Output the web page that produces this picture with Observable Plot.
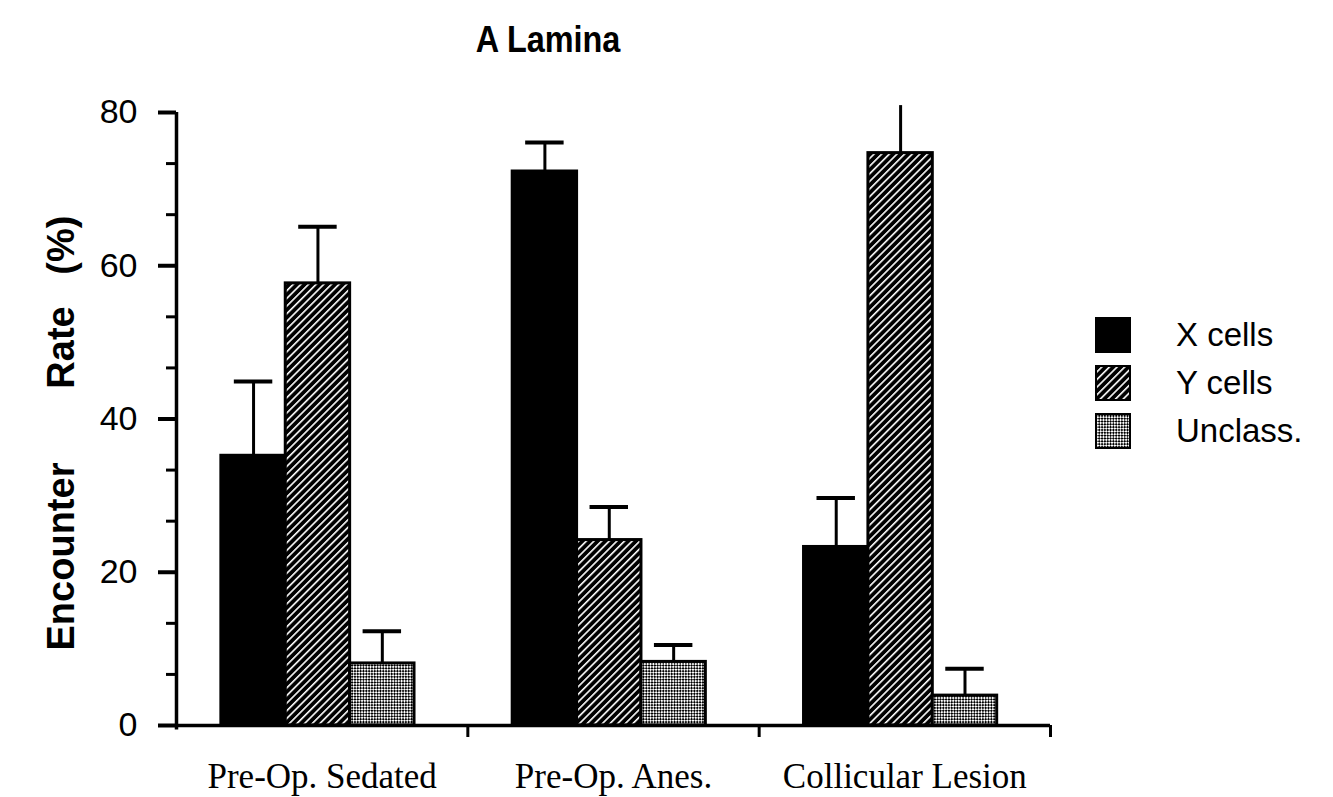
<!DOCTYPE html>
<html><head><meta charset="utf-8">
<script src="https://cdn.jsdelivr.net/npm/d3@7"></script>
<script src="https://cdn.jsdelivr.net/npm/@observablehq/plot@0.6"></script>
<style>
body{margin:0;background:#fff;color:#000;}
#wrap{position:relative;width:1333px;height:797px;overflow:hidden;font-family:"Liberation Sans",Arial,sans-serif;}
#title{position:absolute;left:548px;top:19px;transform:translateX(-50%) scaleX(0.9);font-size:36px;font-weight:bold;white-space:nowrap;}
#chart{position:absolute;left:0;top:80px;}
#ylabel{position:absolute;left:61px;top:433px;transform:translate(-50%,-50%) rotate(-90deg);font-size:38px;font-weight:bold;white-space:pre;}
#legend{position:absolute;left:1095px;top:311px;}
.row{display:flex;align-items:center;height:48px;}
.row svg{width:36px;height:36px;display:block;}
.row span{margin-left:45px;font-size:33px;line-height:36px;}
</style></head><body>
<svg width="0" height="0" style="position:absolute">
  <defs>
    <pattern id="hatch" patternUnits="userSpaceOnUse" width="5.4" height="10" patternTransform="rotate(45)">
      <rect x="0" y="0" width="5.4" height="10" fill="#000"/>
      <rect x="0" y="0" width="1.6" height="10" fill="#fff"/>
    </pattern>
    <pattern id="stipple" patternUnits="userSpaceOnUse" width="4" height="4" patternTransform="rotate(45)">
      <rect x="0" y="0" width="4" height="4" fill="#000"/>
      <rect x="0" y="0" width="2" height="2" fill="#fff"/>
      <rect x="2" y="2" width="2" height="2" fill="#fff"/>
    </pattern>
  </defs>
</svg>
<div id="wrap">
  <div id="title">A Lamina</div>
  <div id="chart"></div>
  <div id="ylabel">Encounter       Rate   (%)</div>
  <div id="legend"></div>
</div>
<script>
// ---- data ----
const groups = ["Pre-Op. Sedated", "Pre-Op. Anes.", "Collicular Lesion"];
const series = ["X cells", "Y cells", "Unclass."];
const xCells = [35.2, 72.3, 23.3];
const xCellsErr = [9.7, 3.8, 6.4];
const yCells = [57.7, 24.2, 74.7];
const yCellsErr = [7.4, 4.3, 6.2];
const unclass = [8.1, 8.3, 3.9];
const unclassErr = [4.2, 2.2, 3.5];
const yTicks = [0, 20, 40, 60, 80];
const yMinorTicks = [20/3, 40/3, 80/3, 100/3, 140/3, 160/3, 200/3, 220/3];
const fills = ["#000", "url(#hatch)", "url(#stipple)"];

const values = [xCells, yCells, unclass];
const errs = [xCellsErr, yCellsErr, unclassErr];
const table = groups.flatMap((g, gi) => series.map((s, si) => ({
  group: g, gi, series: s, si, value: values[si][gi], err: errs[si][gi]
})));

// layout within a group (fraction of the group width)
const off = 0.154, bw = 0.221, cap = 0.066;
const barX1 = d => d.gi + off + d.si * bw;
const barX2 = d => barX1(d) + bw;
const barXc = d => barX1(d) + bw / 2;
const errTop = d => d.value + d.err;

const chart = Plot.plot({
  width: 1333, height: 717,
  marginLeft: 176, marginRight: 283, marginTop: 32, marginBottom: 72,
  x: {domain: [0, 3], axis: null},
  y: {domain: [0, 80], axis: null},
  color: {domain: series, range: fills},
  style: {background: "transparent", color: "#000", fontFamily: "Liberation Sans, Arial, sans-serif"},
  marks: [
    Plot.rectY(table, {x1: barX1, x2: barX2, y1: 0, y2: "value", fill: "series", stroke: "#000", strokeWidth: 3}),
    Plot.ruleX(table, {x: barXc, y1: "value", y2: errTop, stroke: "#000", strokeWidth: 3}),
    Plot.ruleY(table.filter(d => errTop(d) <= 80), {x1: d => barXc(d) - cap, x2: d => barXc(d) + cap, y: errTop, stroke: "#000", strokeWidth: 4}),
    Plot.ruleY([0], {x1: 0, x2: 3, stroke: "#000", strokeWidth: 3.5}),
    Plot.ruleX([0], {y1: -0.6, y2: 80, stroke: "#000", strokeWidth: 3.5}),
    Plot.axisY({ticks: yTicks, tickSize: 18, tickPadding: 21, strokeWidth: 4, fontSize: 34, label: null}),
    Plot.axisY({ticks: yMinorTicks, tickSize: 10, strokeWidth: 3, tickFormat: () => "", label: null}),
    Plot.axisX({ticks: [1, 2, 3], tickSize: 12, strokeWidth: 3, tickFormat: () => "", label: null}),
    Plot.axisX({ticks: [0.5, 1.5, 2.5], tickSize: 0, tickPadding: 38, tickFormat: d => groups[Math.floor(d)],
      fontSize: 35, fontFamily: "Liberation Serif, serif", label: null})
  ]
});
document.getElementById("chart").appendChild(chart);

// legend
const legend = document.getElementById("legend");
series.forEach((s, i) => {
  const row = document.createElement("div");
  row.className = "row";
  row.innerHTML = `<svg viewBox="0 0 36 36"><rect x="1" y="1" width="34" height="34" fill="${fills[i]}" stroke="#000" stroke-width="2"/></svg><span>${s}</span>`;
  legend.appendChild(row);
});
</script>
</body></html>
